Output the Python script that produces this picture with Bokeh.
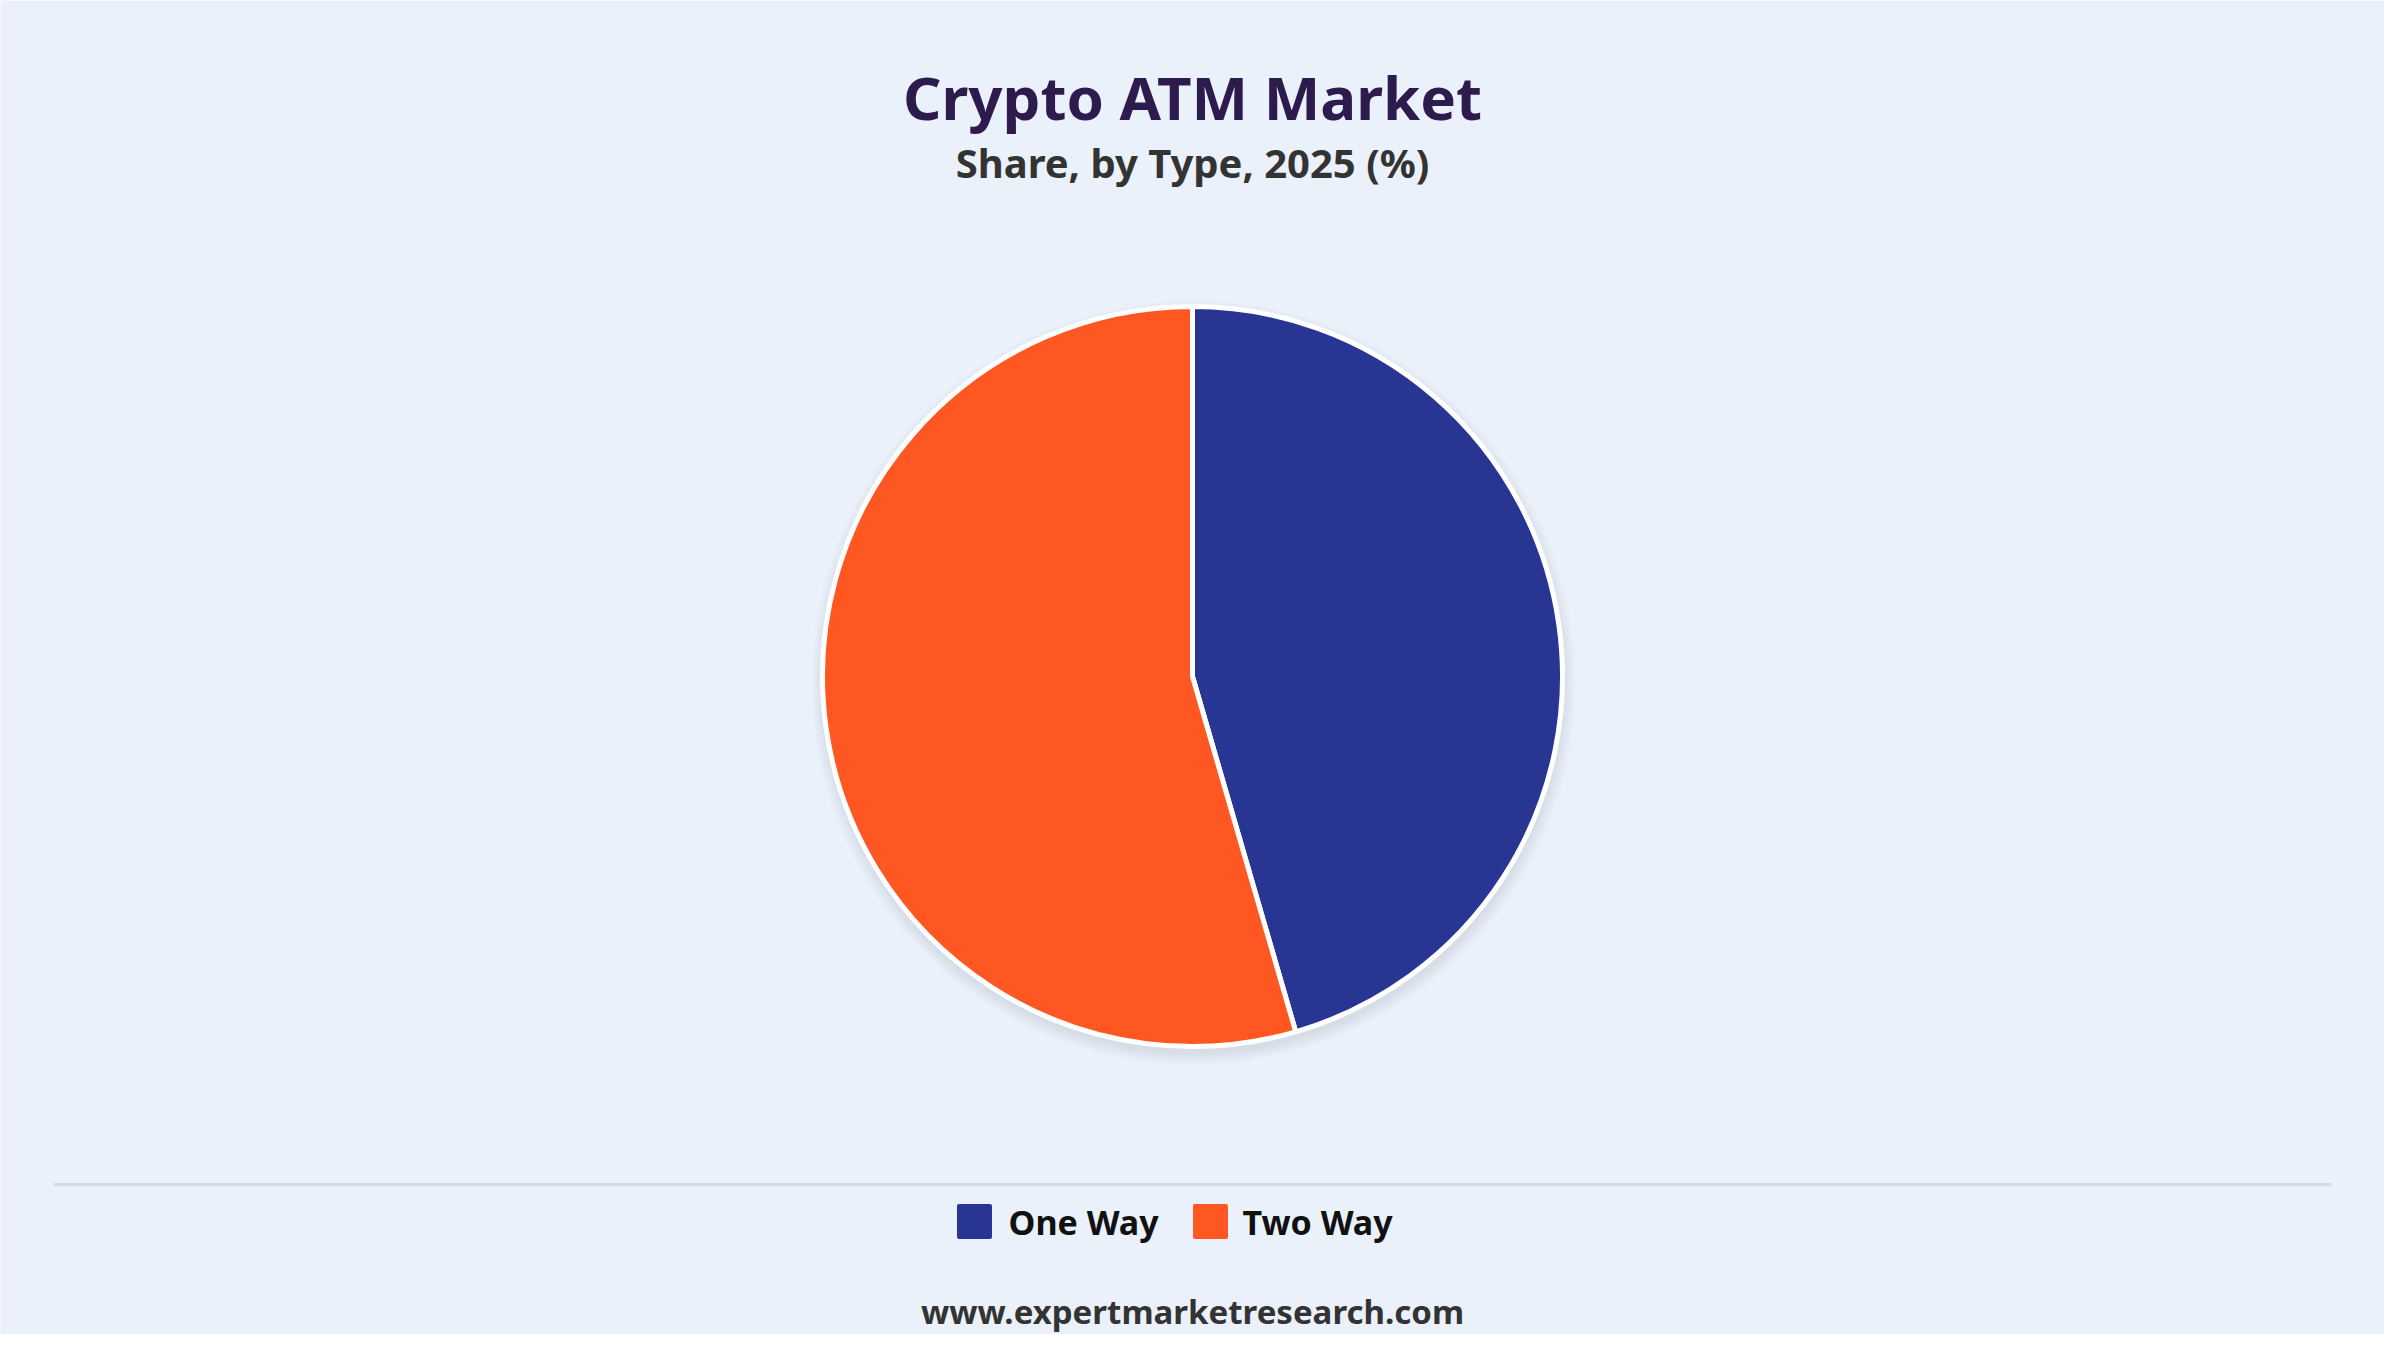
from bokeh.plotting import figure
from bokeh.models import Range1d, ColumnDataSource
from bokeh.core.properties import value
from bokeh.embed import file_html
from bokeh.resources import INLINE
import numpy as np

title = "Crypto ATM Market"
subtitle = "Share, by Type, 2025 (%)"
categories = ["One Way", "Two Way"]
shares = [45.5, 54.5]
colors = ["#283593", "#FF5722"]
footer = "www.expertmarketresearch.com"

W, H = 2384, 1334
bg = "#EAF1FB"
FONT = value("Noto Sans")

p = figure(width=W, height=H, x_range=Range1d(0, W), y_range=Range1d(0, H),
           output_backend="svg", toolbar_location=None, min_border=0)
p.axis.visible = False
p.grid.visible = False
p.outline_line_color = None
p.background_fill_color = bg
p.border_fill_color = bg


def X(px):
    return px - 8


def Y(py):
    return H - (py - 8)


# pie geometry (page pixels of the reference)
cx, cy, r = X(1200), Y(684), 370

frac = np.array(shares) / sum(shares)
ends = np.pi / 2 - np.concatenate([[0], np.cumsum(frac)[:-1]]) * 2 * np.pi
starts = ends - frac * 2 * np.pi
src = ColumnDataSource(dict(cat=categories, share=shares, color=colors,
                            start=starts, end=ends))

# soft shadow
for i in range(10):
    p.circle(x=cx + 1, y=cy - 6, radius=r + 1 + i * 1.3, fill_color="#000000",
             fill_alpha=0.008, line_color=None)

p.wedge(x=cx, y=cy, radius=r, start_angle="start", end_angle="end",
        fill_color="color", line_color="white", line_width=5, source=src)

# titles
p.text(x=[X(1200)], y=[Y(104)], text=[title], text_font=FONT, text_font_style="bold",
       text_font_size="60px", text_color="#2D1B4E", text_align="center",
       text_baseline="middle")
p.text(x=[X(1200)], y=[Y(170)], text=[subtitle], text_font=FONT, text_font_style="bold",
       text_font_size="40px", text_color="#333333", text_align="center",
       text_baseline="middle")

# separator
p.line(x=[X(61), X(2339)], y=[Y(1192), Y(1192)], line_color="#D8DCE2", line_width=3)

# legend
leg_sq_x = [X(982), X(1218)]
leg_tx_x = [X(1016), X(1250)]
leg_y = [Y(1229), Y(1229)]
p.scatter(x=leg_sq_x, y=leg_y, marker="square", size=31, fill_color=colors,
          line_color=colors, line_width=4, line_join="round")
p.text(x=leg_tx_x, y=leg_y, text=categories, text_font=FONT, text_font_style="bold",
       text_font_size="34px", text_color="#111111", text_align="left",
       text_baseline="middle")

# footer
p.text(x=[X(1200)], y=[Y(1319)], text=[footer], text_font=FONT, text_font_style="bold",
       text_font_size="33px", text_color="#333333", text_align="center",
       text_baseline="middle")

open("out.html", "w").write(file_html(p, INLINE))
